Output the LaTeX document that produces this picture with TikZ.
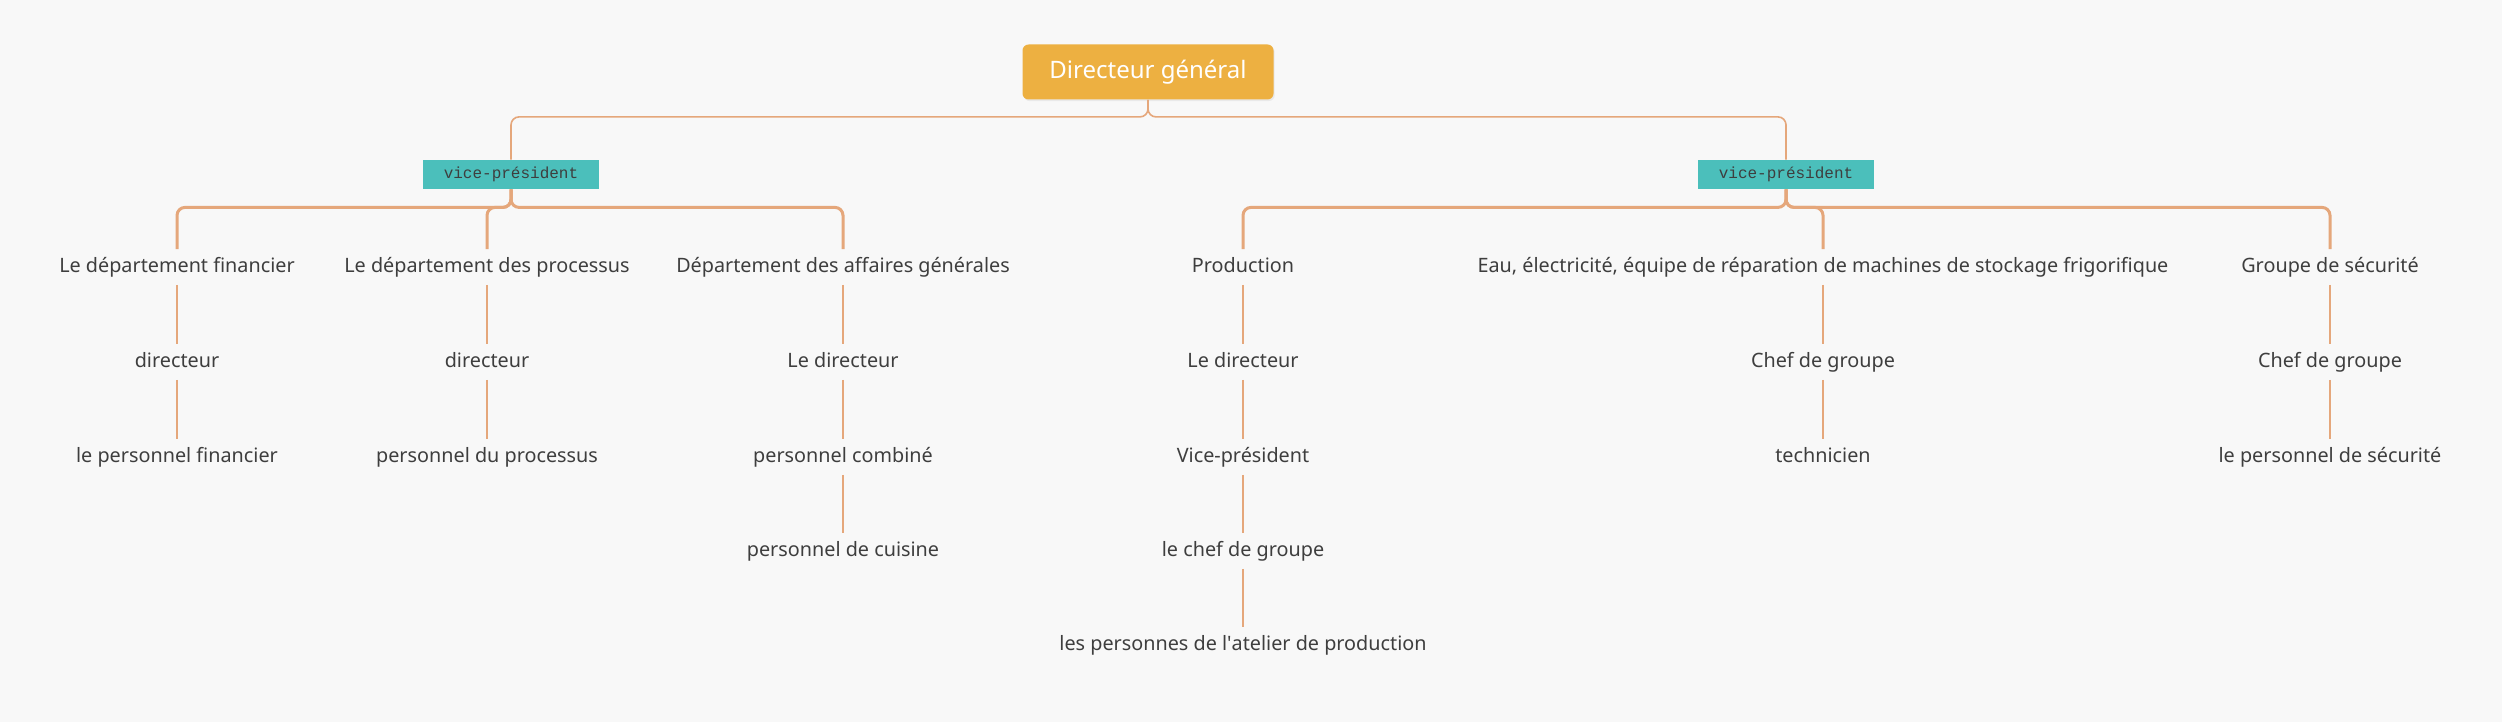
\documentclass[tikz,border=0pt]{standalone}
\usepackage{fontspec}
\setmainfont{Noto Sans}
\newfontfamily\vpfont{Liberation Mono}
\usetikzlibrary{positioning,calc,shadows}
\definecolor{bossorange}{HTML}{EDB041}
\definecolor{vpteal}{HTML}{4BBFBB}
\definecolor{linkorange}{HTML}{E5A77B}
\definecolor{inkgray}{HTML}{3E3E3E}
\definecolor{paper}{HTML}{F8F8F8}

\begin{document}
\begin{tikzpicture}
    	[x=0.5pt, y=-0.5pt,
    		boss/.style={
    		  rectangle,
    		  fill=bossorange,
    		  text=white,
    		  font=\fontsize{12pt}{14pt}\selectfont,
    		  rounded corners=3pt,
    		  minimum width=125.5pt,
    		  minimum height=27.5pt,
    		  inner sep=0pt,
    		  drop shadow={opacity=0.12, shadow xshift=0.6pt, shadow yshift=-0.8pt}
    		},
    		vp/.style={
    		  rectangle,
    		  fill=vpteal,
    		  text=inkgray,
    		  font=\vpfont\fontsize{8pt}{10pt}\selectfont,
    		  minimum width=88pt,
    		  minimum height=14.5pt,
    		  inner sep=0pt
    		},
    		item/.style={
    		  text=inkgray,
    		  font=\fontsize{9.9pt}{12pt}\selectfont,
    		  text height=7.6pt,
    		  text depth=2.2pt,
    		  minimum height=17.5pt,
    		  inner sep=0pt
    		},
    		trunk/.style={linkorange, line width=0.8pt, rounded corners=4pt},
    		bus/.style={linkorange, line width=1.5pt, rounded corners=4pt},
    		twig/.style={linkorange, line width=0.8pt}
    	]
    	\fill[paper] (0,0) rectangle (2502,722);

    	\draw (1148, 72) node[boss] (dg) {Directeur général};
    	\draw (511, 174.5) node[vp] (vpL) {vice-président};
    	\draw (1786, 174.5) node[vp] (vpR) {vice-président};

    	% left vice-president
    	\draw (177, 267) node[item] (fin) {Le département financier};
    	\draw (177, 362) node[item] (fin2) {directeur};
    	\draw (177, 457) node[item] (fin3) {le personnel financier};
    	\draw (487, 267) node[item] (proc) {Le département des processus};
    	\draw (487, 362) node[item] (proc2) {directeur};
    	\draw (487, 457) node[item] (proc3) {personnel du processus};
    	\draw (843, 267) node[item] (aff) {Département des affaires générales};
    	\draw (843, 362) node[item] (aff2) {Le directeur};
    	\draw (843, 457) node[item] (aff3) {personnel combiné};
    	\draw (843, 551) node[item] (aff4) {personnel de cuisine};

    	% right vice-president
    	\draw (1243, 267) node[item] (prod) {Production};
    	\draw (1243, 362) node[item] (prod2) {Le directeur};
    	\draw (1243, 457) node[item] (prod3) {Vice-président};
    	\draw (1243, 551) node[item] (prod4) {le chef de groupe};
    	\draw (1243, 645) node[item] (prod5) {les personnes de l\textquotesingle atelier de production};
    	\draw (1823, 267) node[item] (eau) {Eau, électricité, équipe de réparation de machines de stockage frigorifique};
    	\draw (1823, 362) node[item] (eau2) {Chef de groupe};
    	\draw (1823, 457) node[item] (eau3) {technicien};
    	\draw (2330, 267) node[item] (sec) {Groupe de sécurité};
    	\draw (2330, 362) node[item] (sec2) {Chef de groupe};
    	\draw (2330, 457) node[item] (sec3) {le personnel de sécurité};

    	\draw[trunk] (dg.south) -- ++(0,17) -| (vpL.north);
    	\draw[trunk] (dg.south) -- ++(0,17) -| (vpR.north);

    	\draw[bus] (vpL.south) -- ++(0,18) -| (fin.north);
    	\draw[bus] (vpL.south) -- ++(0,18) -| (proc.north);
    	\draw[bus] (vpL.south) -- ++(0,18) -| (aff.north);
    	\draw[bus] (vpR.south) -- ++(0,18) -| (prod.north);
    	\draw[bus] (vpR.south) -- ++(0,18) -| (eau.north);
    	\draw[bus] (vpR.south) -- ++(0,18) -| (sec.north);

    	\draw[twig] (fin.south) -- (fin2.north);
    	\draw[twig] (fin2.south) -- (fin3.north);
    	\draw[twig] (proc.south) -- (proc2.north);
    	\draw[twig] (proc2.south) -- (proc3.north);
    	\draw[twig] (aff.south) -- (aff2.north);
    	\draw[twig] (aff2.south) -- (aff3.north);
    	\draw[twig] (aff3.south) -- (aff4.north);
    	\draw[twig] (prod.south) -- (prod2.north);
    	\draw[twig] (prod2.south) -- (prod3.north);
    	\draw[twig] (prod3.south) -- (prod4.north);
    	\draw[twig] (prod4.south) -- (prod5.north);
    	\draw[twig] (eau.south) -- (eau2.north);
    	\draw[twig] (eau2.south) -- (eau3.north);
    	\draw[twig] (sec.south) -- (sec2.north);
    	\draw[twig] (sec2.south) -- (sec3.north);
    \end{tikzpicture}
\end{document}
